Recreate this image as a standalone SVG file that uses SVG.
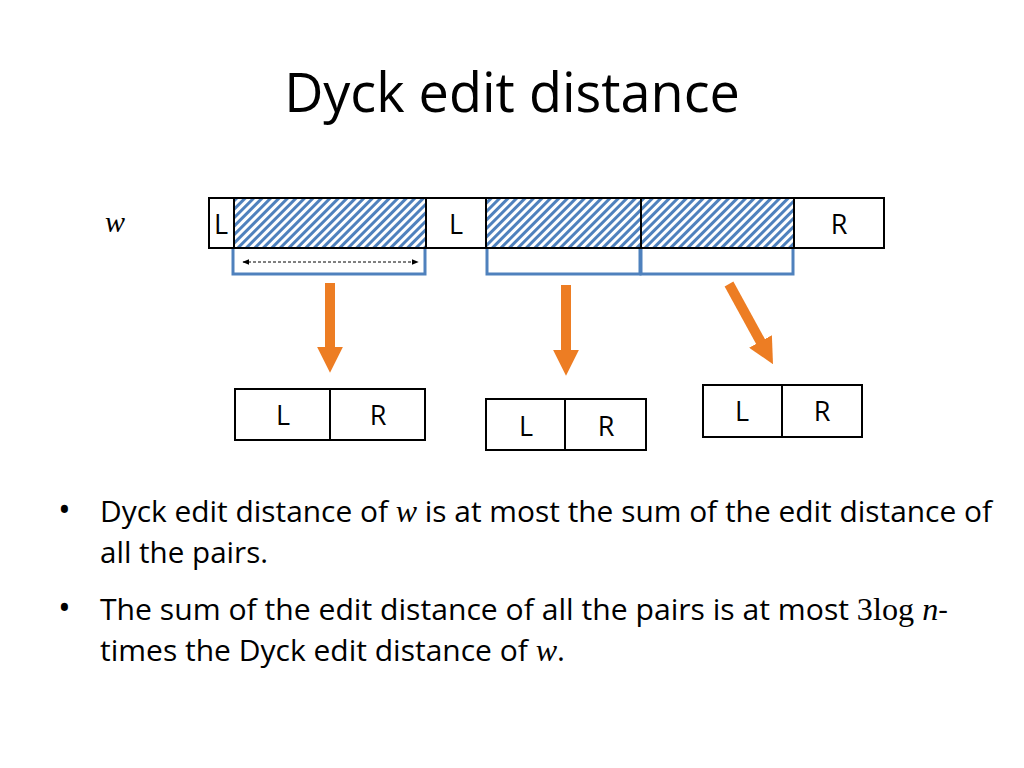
<svg xmlns="http://www.w3.org/2000/svg" width="1024" height="768" viewBox="0 0 1024 768">
<defs>
<pattern id="h" width="6" height="6" patternUnits="userSpaceOnUse" patternTransform="rotate(45)">
<rect width="6" height="6" fill="#fff"/><rect width="3" height="6" fill="#4f81bd"/>
</pattern>
<marker id="da" viewBox="0 0 10 10" refX="9" refY="5" markerWidth="7" markerHeight="7" orient="auto-start-reverse"><path d="M0,1 L10,5 L0,9 z" fill="#000"/></marker>
<marker id="oa" viewBox="0 0 10 10" refX="2" refY="5" markerWidth="2.6" markerHeight="2.6" orient="auto"><path d="M0,0 L10,5 L0,10 z" fill="#ed7d23"/></marker>
</defs>
<style>
.c{fill:#fff;stroke:#000;stroke-width:2}
.hc{fill:url(#h);stroke:#000;stroke-width:2}
.t{font-family:"Open Sans","Liberation Sans",sans-serif;font-size:27px;text-anchor:middle}
.b{font-family:"Open Sans","Liberation Sans",sans-serif;font-size:29px}
.m{font-family:"Liberation Serif",serif;font-style:italic}
.br{fill:none;stroke:#4f81bd;stroke-width:3}
.oa{stroke:#ed7d23;stroke-width:10;marker-end:url(#oa)}
</style>
<text x="512" y="112" class="t" style="font-size:54px">Dyck edit distance</text>
<text x="115" y="232" class="m" font-size="30" text-anchor="middle">w</text>
<g id="bar">
<rect class="c" x="209" y="198" width="25" height="50"/>
<rect class="hc" x="234" y="198" width="192" height="50"/>
<rect class="c" x="426" y="198" width="60" height="50"/>
<rect class="hc" x="486" y="198" width="155" height="50"/>
<rect class="hc" x="641" y="198" width="153" height="50"/>
<rect class="c" x="794" y="198" width="90" height="50"/>
<text x="221" y="234" class="t">L</text>
<text x="456" y="234" class="t">L</text>
<text x="839" y="234" class="t">R</text>
</g>
<g id="brackets">
<path class="br" d="M233,249 V274 H425 V249"/>
<path class="br" d="M487,249 V274 H640 V249"/>
<path class="br" d="M641,249 V274 H793 V249"/>
</g>
<g id="connectors">
<line x1="243" y1="262" x2="418" y2="262" stroke="#000" stroke-width="1" stroke-dasharray="3,2" marker-start="url(#da)" marker-end="url(#da)"/>
<line class="oa" x1="330" y1="283" x2="330" y2="352"/>
<line class="oa" x1="566" y1="285" x2="566" y2="355"/>
<line class="oa" x1="729" y1="284" x2="763" y2="346"/>
</g>
<g id="p1">
<rect class="c" x="235" y="389" width="95" height="51"/><rect class="c" x="330" y="389" width="95" height="51"/>
<text x="283" y="425" class="t">L</text><text x="378" y="425" class="t">R</text>
</g>
<g id="p2">
<rect class="c" x="486" y="399" width="79" height="51"/><rect class="c" x="565" y="399" width="81" height="51"/>
<text x="526" y="436" class="t">L</text><text x="606" y="436" class="t">R</text>
</g>
<g id="p3">
<rect class="c" x="703" y="385" width="79" height="52"/><rect class="c" x="782" y="385" width="80" height="52"/>
<text x="742" y="421" class="t">L</text><text x="822" y="421" class="t">R</text>
</g>
<g class="b">
<text x="58" y="522" font-size="34">•</text>
<text x="100" y="522" textLength="892" lengthAdjust="spacingAndGlyphs">Dyck edit distance of <tspan class="m" font-size="31">w</tspan> is at most the sum of the edit distance of</text>
<text x="100" y="563" textLength="168" lengthAdjust="spacingAndGlyphs">all the pairs.</text>
<text x="58" y="620" font-size="34">•</text>
<text x="100" y="620" textLength="848" lengthAdjust="spacingAndGlyphs">The sum of the edit distance of all the pairs is at most <tspan font-family="Liberation Serif" font-size="31">3log </tspan><tspan class="m" font-size="31">n</tspan>-</text>
<text x="100" y="661" textLength="465" lengthAdjust="spacingAndGlyphs">times the Dyck edit distance of <tspan class="m" font-size="31">w</tspan>.</text>
</g>
</svg>
